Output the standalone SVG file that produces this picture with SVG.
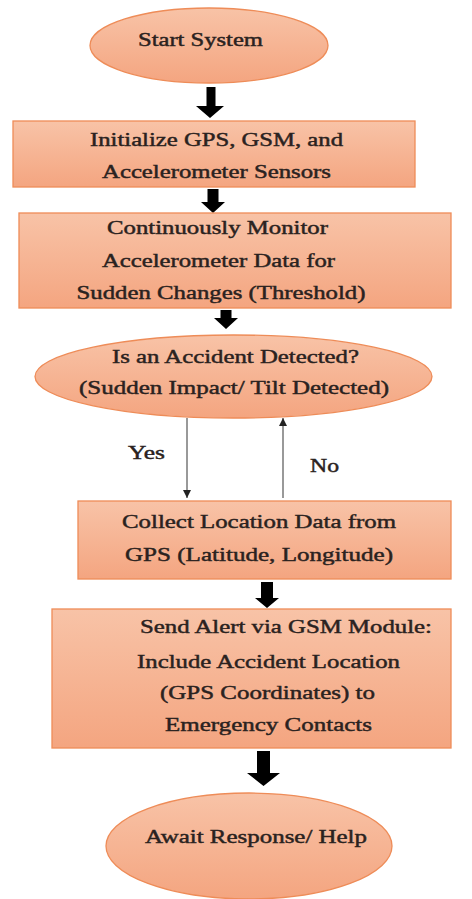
<svg xmlns="http://www.w3.org/2000/svg" width="472" height="899" viewBox="0 0 472 899">
<defs>
<linearGradient id="fillg" x1="0" y1="0" x2="0" y2="1">
<stop offset="0" stop-color="#F8C3A7"/>
<stop offset="1" stop-color="#F4A580"/>
</linearGradient>
<marker id="ah" viewBox="0 0 10 10" refX="10" refY="5" markerWidth="8" markerHeight="8" markerUnits="userSpaceOnUse" orient="auto">
<path d="M0,0 L10,5 L0,10 Z" fill="#222"/>
</marker>
<style>
.shape{fill:url(#fillg);stroke:#EE8C58;stroke-width:1.3}
.t{font-family:"Liberation Serif","Times New Roman",serif;font-weight:normal;font-size:19px;fill:#2a2220;stroke:#2a2220;stroke-width:0.45;text-anchor:middle}
.thin{stroke:#555;stroke-width:1.2;fill:none}
.blk{fill:#000}
</style>
</defs>
<rect width="472" height="899" fill="#fff"/>

<g id="connectors">
<polygon class="blk" points="206.5,87 215.5,87 215.5,106 224,106 210,118 196,106 206.5,106"/>
<polygon class="blk" points="207.5,189 218.5,189 218.5,202 225,202 213,213 201,202 207.5,202"/>
<polygon class="blk" points="220.5,310 231.5,310 231.5,318 238,318 226,329 214,318 220.5,318"/>
<polygon class="blk" points="261,582 273,582 273,598 279,598 267,608 255,598 261,598"/>
<polygon class="blk" points="257,751 270,751 270,773 280,773 263.5,786 247,773 257,773"/>
<line class="thin" x1="187" y1="418" x2="187" y2="498" marker-end="url(#ah)"/>
<line class="thin" x1="283" y1="498" x2="283" y2="418" marker-end="url(#ah)"/>
<text class="t" x="146.5" y="459" textLength="37" lengthAdjust="spacingAndGlyphs">Yes</text>
<text class="t" x="324.5" y="472" textLength="29" lengthAdjust="spacingAndGlyphs">No</text>
</g>

<g id="start">
<ellipse class="shape" cx="209" cy="45.5" rx="119" ry="37.5"/>
<text class="t" x="200.5" y="46" textLength="125" lengthAdjust="spacingAndGlyphs">Start System</text>
</g>

<g id="init">
<rect class="shape" x="13" y="121" width="402" height="66"/>
<text class="t" x="216.5" y="146" textLength="253" lengthAdjust="spacingAndGlyphs">Initialize GPS, GSM, and</text>
<text class="t" x="216.5" y="178" textLength="229" lengthAdjust="spacingAndGlyphs">Accelerometer Sensors</text>
</g>

<g id="monitor">
<rect class="shape" x="19" y="213" width="432" height="95"/>
<text class="t" x="217.5" y="234" textLength="221" lengthAdjust="spacingAndGlyphs">Continuously Monitor</text>
<text class="t" x="218.5" y="267" textLength="233" lengthAdjust="spacingAndGlyphs">Accelerometer Data for</text>
<text class="t" x="221" y="299" textLength="289" lengthAdjust="spacingAndGlyphs">Sudden Changes (Threshold)</text>
</g>

<g id="decision">
<ellipse class="shape" cx="233.5" cy="376.5" rx="198.5" ry="41.5"/>
<text class="t" x="235.5" y="363" textLength="247" lengthAdjust="spacingAndGlyphs">Is an Accident Detected?</text>
<text class="t" x="234" y="394" textLength="310" lengthAdjust="spacingAndGlyphs">(Sudden Impact/ Tilt Detected)</text>
</g>

<g id="collect">
<rect class="shape" x="78" y="501" width="373" height="78"/>
<text class="t" x="259" y="528" textLength="274" lengthAdjust="spacingAndGlyphs">Collect Location Data from</text>
<text class="t" x="259" y="561" textLength="268" lengthAdjust="spacingAndGlyphs">GPS (Latitude, Longitude)</text>
</g>

<g id="alert">
<rect class="shape" x="52" y="609" width="399" height="139"/>
<text class="t" x="286" y="633" textLength="292" lengthAdjust="spacingAndGlyphs">Send Alert via GSM Module:</text>
<text class="t" x="268.5" y="668" textLength="263" lengthAdjust="spacingAndGlyphs">Include Accident Location</text>
<text class="t" x="267.5" y="699" textLength="215" lengthAdjust="spacingAndGlyphs">(GPS Coordinates) to</text>
<text class="t" x="268.5" y="731" textLength="207" lengthAdjust="spacingAndGlyphs">Emergency Contacts</text>
</g>

<g id="await">
<ellipse class="shape" cx="249" cy="846" rx="143" ry="53"/>
<text class="t" x="256" y="843" textLength="222" lengthAdjust="spacingAndGlyphs">Await Response/ Help</text>
</g>
</svg>
